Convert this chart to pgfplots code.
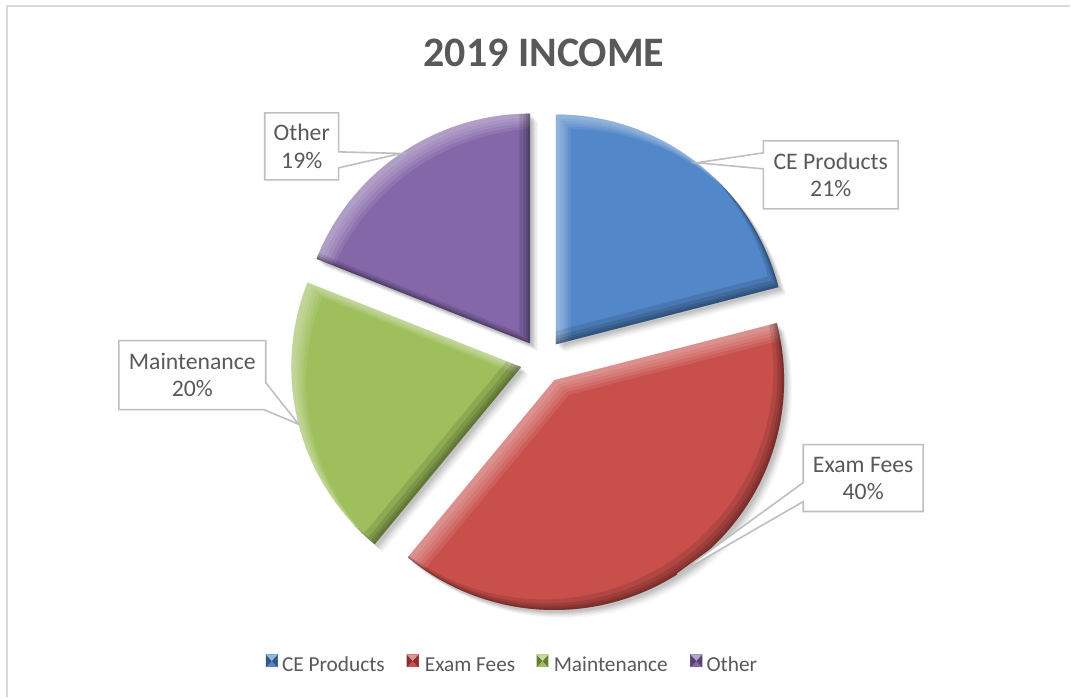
\documentclass[border=0pt]{standalone}
\usepackage{pgfplots}
\pgfplotsset{compat=1.18}
\usepackage{pgfplotstable}
\usepackage{fontspec}
\setmainfont{Carlito}

\definecolor{txt}{HTML}{595959}
\definecolor{boxline}{HTML}{BFBFBF}
\definecolor{frame}{HTML}{D9D9D9}
\definecolor{sl0}{HTML}{5287C9}
\definecolor{sl1}{HTML}{C94F4B}
\definecolor{sl2}{HTML}{9EBF5B}
\definecolor{sl3}{HTML}{8467A9}

% 2019 income shares
\pgfplotstableread[col sep=comma]{
name,value
CE Products,21
Exam Fees,40
Maintenance,20
Other,19
}\income

% pie geometry in pixels
\def\cx{543}\def\cy{362}\def\expl{22}\def\R{172.5pt}

\newcommand{\slicepath}[5]{% vx vy a1 a2 shift
  ([shift={#5}]axis cs:#1,#2) -- ++({90-#3}:\R)
  arc[start angle={90-#3}, end angle={90-#4}, radius=\R] -- cycle}

\begin{document}
\begin{tikzpicture}
\begin{axis}[
  hide axis, scale only axis, clip=false,
  width=803.25pt, height=523.5pt,
  xmin=0, xmax=1071, ymin=0, ymax=698, y dir=reverse,
]
\pgfplotsextra{
  \fill[white] (axis cs:0,0) rectangle (axis cs:1071,698);
  \draw[frame, line width=1.5pt] (axis cs:7,698) -- (axis cs:7,6) -- (axis cs:1071,6);
  \pgfplotstablegetrowsof{\income}
  \pgfmathtruncatemacro\nlast{\pgfplotsretval-1}
  \xdef\total{0}
  \foreach \i in {0,...,\nlast}{
    \pgfplotstablegetelem{\i}{value}\of\income
    \pgfmathsetmacro\tt{\total+\pgfplotsretval}\xdef\total{\tt}
  }
  \xdef\cum{0}
  \foreach \i in {0,...,\nlast}{
    \pgfplotstablegetelem{\i}{value}\of\income
    \let\val\pgfplotsretval
    \pgfmathsetmacro\aone{360*(\cum/\total)}
    \pgfmathsetmacro\atwo{360*((\cum+\val)/\total)}
    \pgfmathsetmacro\amid{(\aone+\atwo)/2}
    \pgfmathsetmacro\vx{\cx+\expl*sin(\amid)}
    \pgfmathsetmacro\vy{\cy-\expl*cos(\amid)}
    \pgfmathsetmacro\tx{\vx+230*sin(\amid)}
    \pgfmathsetmacro\ty{\vy-230*cos(\amid)}
    \coordinate (tip\i) at (axis cs:\tx,\ty);
    % soft shadow
    \foreach \sh/\op in {6/0.03,5/0.04,4/0.05,3/0.06,2/0.07}{
      \fill[black, opacity=\op] \slicepath{\vx}{\vy}{\aone}{\atwo}{(\sh pt,-\sh pt)};
    }
    \fill[sl\i] \slicepath{\vx}{\vy}{\aone}{\atwo}{(0pt,0pt)};
    % bevel: light upper-left edges, dark lower-right edges
    \begin{scope}
      \clip \slicepath{\vx}{\vy}{\aone}{\atwo}{(0pt,0pt)};
      \foreach \sh in {3,5,7,9,11}{
        \fill[white, opacity=0.09, even odd rule]
          (axis cs:0,0) rectangle (axis cs:1071,698)
          \slicepath{\vx}{\vy}{\aone}{\atwo}{(\sh pt,-\sh pt)};
      }
      \foreach \sh in {1.5,3,5,8}{
        \fill[black, opacity=0.11, even odd rule]
          (axis cs:0,0) rectangle (axis cs:1071,698)
          \slicepath{\vx}{\vy}{\aone}{\atwo}{(-\sh pt,\sh pt)};
      }
    \end{scope}
    \pgfmathsetmacro\nc{\cum+\val}\xdef\cum{\nc}
  }
  % title
  \node[txt, anchor=base, font=\bfseries\fontsize{31.5}{36}\selectfont]
    at (axis cs:544.5,66.7) {2019 INCOME};
  % data label callouts
  \tikzset{callout/.style={draw=boxline, fill=white, line width=1.2pt, line join=miter},
           lab/.style={txt, align=center, font=\fontsize{17.8}{20.3}\selectfont}}
  \draw[callout] (axis cs:764,141) -- (axis cs:899,141) -- (axis cs:899,209)
    -- (axis cs:764,209) -- (axis cs:764,169) -- (tip0) -- (axis cs:764,153) -- cycle;
  \node[lab] at (axis cs:831.5,175) {CE Products\\21\%};
  \draw[callout] (axis cs:804,445) -- (axis cs:924,445) -- (axis cs:924,512)
    -- (axis cs:804,512) -- (axis cs:804,502) -- (tip1) -- (axis cs:804,483) -- cycle;
  \node[lab] at (axis cs:864,478.5) {Exam Fees\\40\%};
  \draw[callout] (axis cs:119,341) -- (axis cs:266,341) -- (axis cs:266,383)
    -- (tip2) -- (axis cs:264,410) -- (axis cs:119,410) -- cycle;
  \node[lab] at (axis cs:192.5,375.5) {Maintenance\\20\%};
  \draw[callout] (axis cs:265,113) -- (axis cs:339,113) -- (axis cs:339,152)
    -- (tip3) -- (axis cs:339,168) -- (axis cs:339,180) -- (axis cs:265,180) -- cycle;
  \node[lab] at (axis cs:302,146.5) {Other\\19\%};
  % legend
  \foreach \i/\mx/\lx/\nm in {0/266/282/CE Products,1/407/425/Exam Fees,
                              2/537/554/Maintenance,3/691/707/Other}{
    \fill[sl\i] (axis cs:\mx,655) rectangle (axis cs:\mx+12,668);
    \fill[sl\i!65!black] (axis cs:\mx,655) -- (axis cs:\mx+6,661.5) -- (axis cs:\mx,668) -- cycle;
    \fill[sl\i!65!black] (axis cs:\mx+12,655) -- (axis cs:\mx+6,661.5) -- (axis cs:\mx+12,668) -- cycle;
    \fill[sl\i!60!white] (axis cs:\mx,655) -- (axis cs:\mx+6,661.5) -- (axis cs:\mx+12,655) -- cycle;
    \node[txt, anchor=base west, inner sep=0pt, font=\fontsize{16}{18}\selectfont]
      at (axis cs:\lx,672) {\nm};
  }
}
\end{axis}
\end{tikzpicture}
\end{document}
